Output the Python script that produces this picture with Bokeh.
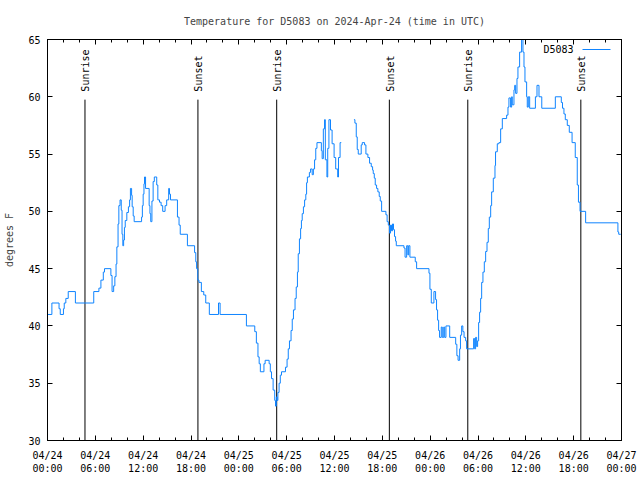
import math
from bokeh.plotting import figure
from bokeh.models import (FixedTicker, LinearAxis, Label, Arrow, Range1d)
from bokeh.core.properties import value
from bokeh.embed import file_html
from bokeh.resources import INLINE

# ---- data (hours since 2024-04-24 00:00 UTC; step changes of the reading) ----
hours_part1 = [0.0, 0.55, 1.45, 1.6, 2.0, 2.1, 2.3, 2.6, 3.5, 5.8,
               6.45, 6.7, 7.0, 7.15, 7.95, 8.1, 8.3, 8.45, 8.6, 8.7,
               8.85, 8.95, 9.1, 9.25, 9.35, 9.45, 9.55, 9.65, 9.75, 9.95,
               10.15, 10.3, 10.4, 10.55, 10.62, 10.75, 10.87, 11.8, 11.9, 12.0,
               12.1, 12.17, 12.3, 12.75, 12.85, 12.95, 13.1, 13.25, 13.4, 13.7,
               13.84, 14.05, 14.25, 14.45, 14.75, 14.95, 15.2, 15.3, 15.43, 16.3,
               16.5, 16.65, 17.55, 18.45, 18.6, 18.7, 18.85, 19.0, 19.3, 19.6,
               19.85, 20.3, 21.45, 21.65, 24.95, 26.0, 26.2, 26.4, 26.55, 26.7,
               27.15, 27.3, 27.8, 27.95, 28.1, 28.3, 28.5, 28.6, 28.7, 28.8,
               28.9, 29.05, 29.2, 29.35, 29.85, 30.05, 30.2, 30.35, 30.55, 30.7,
               30.85, 31.05, 31.2, 31.35, 31.45, 31.6, 31.75, 31.85, 31.95, 32.1,
               32.25, 32.4, 32.5, 32.6, 32.85, 33.0, 33.2, 33.35, 33.5, 33.65,
               33.8, 34.35, 34.45, 34.6, 34.75, 34.85, 35.05, 35.15, 35.3, 35.5,
               35.7, 35.95, 36.15, 36.4, 36.5, 36.7, 36.85]
temps_part1 = [41, 42, 41.5, 41, 41.5, 42, 42.4, 43, 42, 43,
               43.3, 44, 44.7, 45, 44.4, 43, 43.5, 44.3, 45.4, 46.9,
               48.9, 50.5, 51, 50.1, 48, 47, 47.5, 48.6, 49.2, 49.9,
               50.4, 51, 52, 51.4, 50.4, 49.6, 49.1, 49.5, 50.5, 51.5,
               52.4, 53, 52, 50.5, 49.8, 49.1, 50.9, 52.6, 53, 52.3,
               51, 50.8, 50.5, 50, 50.5, 51, 52, 51.5, 51, 49.5,
               48.8, 48, 47, 46.4, 45.6, 45, 44, 43.8, 43, 42.7,
               42, 41, 42, 41, 40, 39.5, 38.5, 37.3, 36.7, 36,
               36.7, 37, 36.7, 36, 35.4, 34.4, 33.5, 33, 33.8, 33.5,
               34.2, 35, 35.7, 36, 36.4, 37.1, 38, 38.7, 39.6, 40.6,
               41.4, 42.4, 43.4, 44.7, 46.3, 47.6, 48.5, 49.2, 49.8, 50.4,
               51, 51.5, 52.5, 53, 53.4, 53.7, 53.2, 53.7, 54.5, 55.5,
               56, 55.3, 54.6, 57.2, 58, 54.5, 53, 55.5, 58, 57.1,
               55.9, 54.7, 53.7, 53, 54.7, 56, 56]

hours_part2 = [38.44, 38.56, 38.73, 38.85, 38.98, 39.35, 39.48, 39.77, 39.94, 40.19,
               40.4, 40.61, 40.78, 40.86, 40.99, 41.11, 41.28, 41.44, 41.61, 41.74,
               41.91, 42.45, 42.6, 42.75, 42.9, 43.03, 43.15, 43.28, 43.4, 43.53,
               43.66, 43.75, 44.71, 44.85, 45.05, 45.2, 45.3, 45.46, 46.13, 46.3,
               47.85, 47.97, 48.14, 48.47, 48.68, 48.8, 48.93, 49.06, 49.18, 49.39,
               49.52, 49.7, 49.82, 49.98, 50.45, 51.2, 51.35, 51.5, 51.7, 51.8,
               51.95, 52.1, 52.25, 52.45, 52.57, 53.45, 53.58, 53.7, 53.83, 53.95,
               54.08, 54.2, 54.33, 54.46, 54.62, 54.79, 54.96, 55.13, 55.29, 55.42,
               55.59, 55.71, 55.92, 56.13, 56.2, 56.42, 56.63, 56.84, 57.05, 57.59,
               57.76, 57.88, 58.09, 58.22, 58.3, 58.51, 58.6, 58.72, 58.89, 59.01,
               59.22, 59.47, 59.64, 59.77, 59.89, 60.1, 60.18, 60.31, 60.48, 61.2,
               61.4, 61.65, 62.0, 63.7, 64.45, 64.6, 64.78, 64.95, 65.2, 65.45,
               65.8, 66.2, 66.45, 66.6, 66.8, 67.5, 71.55, 71.65, 71.9]
temps_part2 = [58, 57.7, 56.5, 55.4, 55, 55.8, 56, 55.8, 55, 54.7,
               54.2, 53.9, 53.6, 53.3, 52.9, 52.3, 52, 51.7, 51.3, 50.9,
               50, 49.7, 49.1, 48.8, 48.1, 48.8, 48.3, 48.9, 48.4, 47.8,
               47.4, 47, 46.8, 46, 47, 46.2, 47, 46, 45.6, 45,
               44.6, 43.2, 42, 43, 42.3, 41.4, 40.5, 39.6, 39, 39.9,
               39, 39.9, 39, 40, 39, 38.4, 37.4, 37, 38, 39.2,
               40, 39.5, 39, 38.7, 38, 38.9, 38, 39, 38.2, 38.7,
               40.3, 41.2, 42.4, 43.8, 44.7, 45.6, 46.5, 47.3, 48.5, 49.5,
               50.5, 51.7, 52.9, 54, 55.2, 55.9, 56, 57.2, 58.1, 58.4,
               59.1, 59.9, 59.1, 60, 59.3, 60.6, 61, 60.3, 61.6, 62.6,
               63.9, 65, 63.9, 62.6, 61.3, 60, 59.1, 60, 59, 60,
               61, 60, 59, 60, 59.5, 59, 58.5, 58, 57.5, 56.9,
               56, 54.7, 52.3, 50.8, 50, 49, 48.2, 48, 48]

assert len(hours_part1) == len(temps_part1)
assert len(hours_part2) == len(temps_part2)

event_hours = [4.7, 18.87, 28.75, 42.88, 52.72, 66.9]
event_labels = ["Sunrise", "Sunset", "Sunrise", "Sunset", "Sunrise", "Sunset"]

x_ticks = [0, 6, 12, 18, 24, 30, 36, 42, 48, 54, 60, 66, 72]
x_tick_labels = ["04/24\n00:00", "04/24\n06:00", "04/24\n12:00", "04/24\n18:00",
                 "04/25\n00:00", "04/25\n06:00", "04/25\n12:00", "04/25\n18:00",
                 "04/26\n00:00", "04/26\n06:00", "04/26\n12:00", "04/26\n18:00",
                 "04/27\n00:00"]
x_minor_ticks = list(range(0, 73, 2))
y_ticks = [30, 35, 40, 45, 50, 55, 60, 65]

series_name = "D5083"
title_text = "Temperature for D5083 on 2024-Apr-24 (time in UTC)"
y_label = "degrees F"

# ---- styling ----
FONT = "DejaVu Sans Mono"
FS = "10px"
LINE_COLOR = "#0f84ff"
Y0, Y1 = 30, 65

p = figure(width=640, height=480, x_range=Range1d(0, 72), y_range=Range1d(Y0, Y1),
           output_backend="svg", toolbar_location=None,
           min_border_left=47, min_border_right=19, min_border_top=39, min_border_bottom=40)
p.background_fill_color = "white"
p.border_fill_color = "white"
p.outline_line_color = "black"
p.xgrid.visible = False
p.ygrid.visible = False

p.title.text = title_text
p.title.align = "center"
p.title.text_font = FONT
p.title.text_font_size = FS
p.title.text_font_style = "normal"
p.title.standoff = 25

xticker = FixedTicker(ticks=x_ticks, minor_ticks=x_minor_ticks)
yticker = FixedTicker(ticks=y_ticks, minor_ticks=[])


def style_axis(ax):
    ax.major_tick_in = 5
    ax.major_tick_out = 0
    ax.minor_tick_in = 3
    ax.minor_tick_out = 0
    ax.axis_line_color = "black"
    ax.major_tick_line_color = "black"
    ax.minor_tick_line_color = "black"
    ax.major_label_text_font = FONT
    ax.major_label_text_font_size = FS
    ax.major_label_text_color = "black"


def mirror_axis(ax):
    style_axis(ax)
    ax.major_label_text_color = None
    ax.major_label_text_font_size = "1px"
    ax.major_label_standoff = 0


xa = p.xaxis[0]
xa.ticker = xticker
xa.major_label_overrides = {t: lab for t, lab in zip(x_ticks, x_tick_labels)}
style_axis(xa)
xa.major_label_standoff = 9

ya = p.yaxis[0]
ya.ticker = yticker
style_axis(ya)
ya.major_label_standoff = 7
ya.axis_label = y_label
ya.axis_label_text_font = FONT
ya.axis_label_text_font_size = FS
ya.axis_label_text_font_style = "normal"
ya.axis_label_standoff = 10

top = LinearAxis(ticker=xticker)
mirror_axis(top)
p.add_layout(top, "above")

right = LinearAxis(ticker=yticker)
mirror_axis(right)
p.add_layout(right, "right")

# sunrise / sunset markers
line_top = Y0 + 0.85 * (Y1 - Y0)
text_y = Y0 + 0.87 * (Y1 - Y0)
p.segment(x0=event_hours, y0=[Y0] * len(event_hours), x1=event_hours,
          y1=[line_top] * len(event_hours), line_color="black", line_width=1)
p.text(x=event_hours, y=[text_y] * len(event_hours), text=event_labels,
       angle=math.pi / 2, text_align="left", text_baseline="middle",
       text_font=value(FONT), text_font_size=value(FS), text_color="black", x_offset=1)

# temperature series
p.step(hours_part1, temps_part1, mode="after", line_color=LINE_COLOR, line_width=1)
p.step(hours_part2, temps_part2, mode="after", line_color=LINE_COLOR, line_width=1)

# gnuplot-style key: text then sample line (top right)
p.add_layout(Label(x=526, y=391, x_units="screen", y_units="screen", text=series_name,
                   text_align="right", text_baseline="middle", text_font=FONT,
                   text_font_size=FS, text_color="black"))
p.add_layout(Arrow(end=None, x_start=535, y_start=391, x_end=563, y_end=391,
                   start_units="screen", end_units="screen",
                   line_color=LINE_COLOR, line_width=1))

open("out.html", "w").write(file_html(p, INLINE))
